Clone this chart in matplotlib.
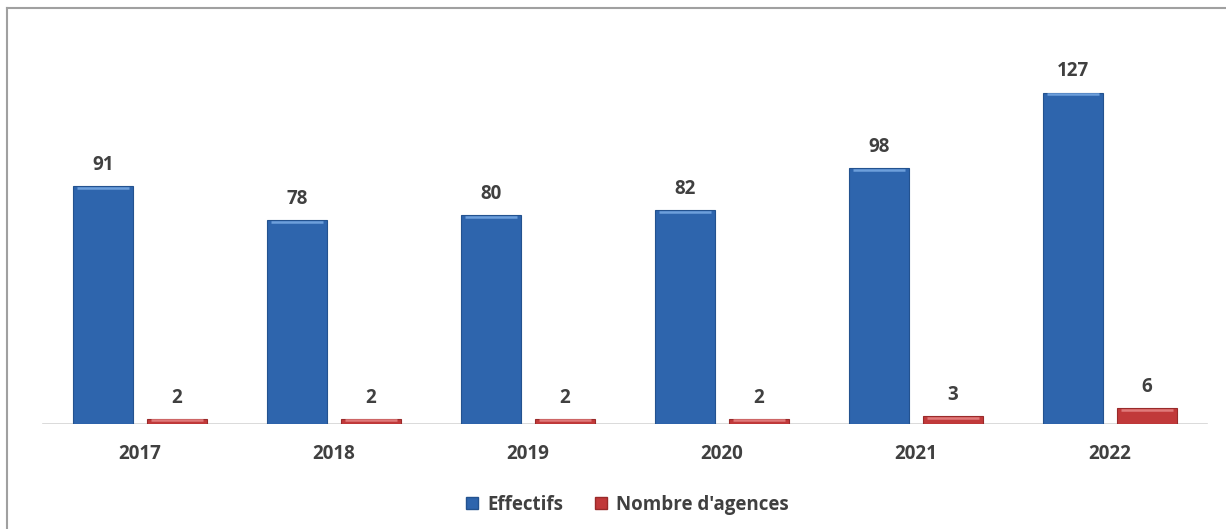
import matplotlib
matplotlib.use("Agg")
import matplotlib.pyplot as plt
from matplotlib.lines import Line2D
import numpy as np

# Data
years = ["2017", "2018", "2019", "2020", "2021", "2022"]
effectifs = [91, 78, 80, 82, 98, 127]
agences = [2, 2, 2, 2, 3, 6]

blue = "#2e65ad"
red = "#c1393a"
text_col = "#404040"

plt.rcParams["font.family"] = ["Open Sans", "DejaVu Sans"]

fig = plt.figure(figsize=(12.26, 5.29), dpi=100)
ax = fig.add_axes([0, 105 / 529, 1, 384 / 529])

# group spacing 194px, bars 60px wide, first group centred at 140px
px = 194
x = np.arange(len(years))
w = 60 / px
off = 37 / px

b1 = ax.bar(x - off, effectifs, w, color=blue, edgecolor="#23528f", linewidth=0.8, zorder=3)
b2 = ax.bar(x + off, agences, w, color=red, edgecolor="#992a2a", linewidth=0.8, zorder=3)

# soft highlight on top of each bar
for bars, hl in ((b1, "#6d9fdb"), (b2, "#e07a7a")):
    for r in bars:
        ax.plot([r.get_x() + 0.02, r.get_x() + r.get_width() - 0.02],
                [r.get_height() - 0.6, r.get_height() - 0.6],
                color=hl, lw=1.8, zorder=4, solid_capstyle="butt")

for bars, vals in ((b1, effectifs), (b2, agences)):
    for r, v in zip(bars, vals):
        ax.annotate(str(v), (r.get_x() + r.get_width() / 2, r.get_height()),
                    xytext=(0, 8), textcoords="offset points", ha="center", va="bottom",
                    fontsize=13.5, fontweight="bold", color=text_col)

xmin = -140 / px
ax.set_xlim(xmin, xmin + 1226 / px)
ax.set_ylim(0, 384 / 2.61)

ax.axis("off")
ax.plot([-0.5, 5.5], [0, 0], color="#d4d4d4", lw=1.2, zorder=2)

for xi, yr in zip(x, years):
    ax.text(xi, -30 / 2.61, yr, ha="center", va="center", fontsize=13.5,
            fontweight="bold", color=text_col)

# legend
handles = [Line2D([], [], marker="s", ls="", markersize=9, markerfacecolor=blue, markeredgecolor="#23528f"),
           Line2D([], [], marker="s", ls="", markersize=9, markerfacecolor=red, markeredgecolor="#992a2a")]
leg = fig.legend(handles, ["Effectifs", "Nombre d'agences"], loc="center",
                 bbox_to_anchor=(621 / 1226, 1 - 505 / 529),
                 ncol=2, frameon=False, handletextpad=-0.2, columnspacing=1.0,
                 prop={"size": 13.5, "weight": "bold"})
for t in leg.get_texts():
    t.set_color(text_col)

# frame lines on top and left
fig.add_artist(Line2D([7 / 1226, 7 / 1226], [0, 1 - 8 / 529], color="#a0a0a0", lw=1.5))
fig.add_artist(Line2D([7 / 1226, 1], [1 - 8 / 529, 1 - 8 / 529], color="#a0a0a0", lw=1.5))

fig.savefig("out.png", dpi=100, facecolor="white")
